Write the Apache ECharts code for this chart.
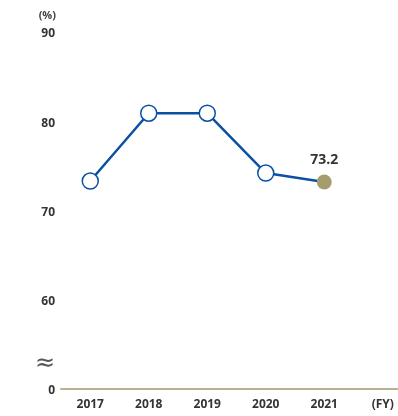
<!DOCTYPE html>
<html>
<head>
<meta charset="utf-8">
<script src="https://cdn.jsdelivr.net/npm/echarts@6/dist/echarts.min.js"></script>
<style>
  html, body { margin: 0; padding: 0; background: #fff; }
  #chart { width: 398px; height: 416px; }
</style>
</head>
<body>
<div id="chart"></div>
<script>
// Fiscal years on the x axis; the trailing entry carries the unit label only
const years = ['2017', '2018', '2019', '2020', '2021', '(FY)'];
// Ratio (%) per fiscal year
const ratios = [73.3, 80.9, 80.9, 74.2, 73.2];
// Value axis range; the bottom of the axis stands for 0 across a break
const yMin = 50;
const yMax = 90;
const yStep = 10;
const breakValue = 52.8;

const blue = '#0b51a3';
const olive = '#a59d6e';
const textColor = '#333333';
const font = '"Open Sans", "Noto Sans", sans-serif';

const chart = echarts.init(document.getElementById('chart'));

const points = ratios.map((v, i) => {
  const last = i === ratios.length - 1;
  return {
    value: v,
    symbolSize: last ? 15 : 16,
    itemStyle: last
      ? { color: olive, borderWidth: 0 }
      : { color: '#ffffff', borderColor: blue, borderWidth: 1.5 },
    label: last
      ? { show: true, position: 'top', distance: 7, formatter: v.toFixed(1),
          color: textColor, fontWeight: 'bold', fontSize: 14, fontFamily: font }
      : { show: false }
  };
});

chart.setOption({
  animation: false,
  grid: { left: 61, top: 32, width: 351, height: 357, containLabel: false, outerBoundsMode: 'none' },
  xAxis: {
    type: 'category',
    data: years,
    boundaryGap: true,
    axisLine: { lineStyle: { color: '#b9b28f', width: 2 } },
    axisTick: { show: false },
    axisLabel: { color: textColor, fontWeight: 'bold', fontSize: 12, fontFamily: font, margin: 10 }
  },
  yAxis: {
    type: 'value',
    min: yMin,
    max: yMax,
    interval: yStep,
    name: '(%)',
    nameLocation: 'end',
    nameGap: 11,
    nameTextStyle: { color: '#444', fontWeight: 'bold', fontSize: 11, fontFamily: font, align: 'right', padding: [0, 5, 0, 0] },
    axisLine: { show: false },
    axisTick: { show: false },
    splitLine: { show: false },
    axisLabel: {
      margin: 6,
      formatter: v => '{t|' + (v === yMin ? '0' : String(v)) + '}',
      rich: {
        t: { color: textColor, fontWeight: 'bold', fontSize: 12, fontFamily: font, padding: [4, 0, 0, 0] }
      }
    }
  },
  series: [{
    type: 'line',
    data: points,
    symbol: 'circle',
    lineStyle: { color: blue, width: 2.5 },
    z: 3
  }]
});

// Wavy break mark between the 0 baseline and 60
const bp = chart.convertToPixel({ gridIndex: 0 }, ['2017', breakValue]);
chart.setOption({
  graphic: [{
    type: 'text',
    x: 55,
    y: bp[1],
    style: {
      text: '≈', fill: '#555555', fontSize: 24, fontFamily: '"DejaVu Sans", sans-serif',
      align: 'right', verticalAlign: 'middle'
    }
  }]
});
</script>
</body>
</html>
